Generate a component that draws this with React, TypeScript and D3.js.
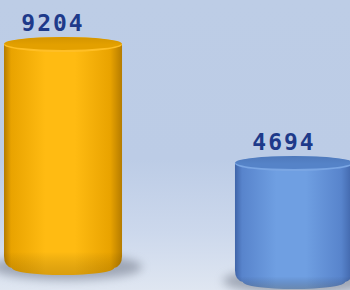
import { useEffect } from "react"
import { scaleBand, scaleLinear } from "d3"

const categories = ["Category 1", "Category 2"]
const values = [9204, 4694]
const labels = ["9204", "4694"]

const W = 350
const H = 290

// colours for each cylinder: [edge dark, mid, bright, cap face, cap rim]
const palettes = [
  { dark: "#b57c00", mid: "#e9a300", bright: "#ffbb12", cap: "#e3a000", capTop: "#d39400", rim: "#ffbf26" },
  { dark: "#3f64a8", mid: "#5884cc", bright: "#6f9fe2", cap: "#5583c8", capTop: "#4f79bb", rim: "#7aa6e4" }
]

function Cylinder({ i, x, w, top, bottom }) {
  const p = palettes[i]
  const rx = w / 2
  const cx = x + rx
  const ry = 6.5
  const rb = 9
  const corner = 8
  const body = `
    M${x},${top + ry}
    V${bottom - rb - corner}
    Q${x},${bottom - rb + 2} ${x + corner},${bottom - rb + 4}
    A${rx - corner},${rb - 2} 0 0 0 ${x + w - corner},${bottom - rb + 4}
    Q${x + w},${bottom - rb + 2} ${x + w},${bottom - rb - corner}
    V${top + ry}
    Z`
  return (
    <g>
      <ellipse cx={cx + 4} cy={bottom - 6} rx={rx + 16} ry={13} fill="#6f7787" opacity={0.55} filter="url(#blur)" />
      <path d={body} fill={`url(#body${i})`} />
      <path d={body} fill="url(#bottomShade)" />
      <ellipse cx={cx} cy={top + ry + 1} rx={rx} ry={ry + 1} fill={p.rim} />
      <ellipse cx={cx} cy={top + ry} rx={rx - 0.5} ry={ry} fill={`url(#cap${i})`} />
    </g>
  )
}

export default function App() {
  useEffect(() => {
    document.body.style.margin = "0"
  }, [])

  const x = scaleBand().domain(categories).range([4, 353]).paddingInner(0.489).paddingOuter(0)
  const base = 280
  const y = scaleLinear().domain([0, 9204]).range([base, 37])
  const tilt = 14

  return (
    <svg width={W} height={H} style={{ position: "fixed", left: 0, top: 0, display: "block" }}>
      <defs>
        <linearGradient id="bg" x1="0" y1="0" x2="0" y2="1">
          <stop offset="0" stopColor="#bdcde6" />
          <stop offset="0.55" stopColor="#bccce6" />
          <stop offset="0.8" stopColor="#ccd8ec" />
          <stop offset="1" stopColor="#dfe6f1" />
        </linearGradient>
        <filter id="blur" x="-50%" y="-50%" width="200%" height="200%">
          <feGaussianBlur stdDeviation="5" />
        </filter>
        <linearGradient id="bottomShade" x1="0" y1="0" x2="0" y2="1">
          <stop offset="0.9" stopColor="#000" stopOpacity="0" />
          <stop offset="1" stopColor="#5a3a00" stopOpacity="0.22" />
        </linearGradient>
        {palettes.map((p, i) => (
          <linearGradient key={`b${i}`} id={`body${i}`} x1="0" y1="0" x2="1" y2="0">
            <stop offset="0" stopColor={p.dark} />
            <stop offset="0.06" stopColor={p.mid} />
            <stop offset="0.35" stopColor={p.bright} />
            <stop offset="0.6" stopColor={p.bright} />
            <stop offset="0.9" stopColor={p.mid} />
            <stop offset="1" stopColor={p.dark} />
          </linearGradient>
        ))}
        {palettes.map((p, i) => (
          <linearGradient key={`c${i}`} id={`cap${i}`} x1="0" y1="0" x2="0" y2="1">
            <stop offset="0" stopColor={p.capTop} />
            <stop offset="0.6" stopColor={p.cap} />
            <stop offset="1" stopColor={p.cap} />
          </linearGradient>
        ))}
      </defs>
      <rect width={W} height={H} fill="url(#bg)" />
      {categories.map((c, i) => {
        const bx = x(c)
        const bw = x.bandwidth()
        const bottom = base - tilt / 2 + tilt * i
        return (
          <Cylinder key={c} i={i} x={bx} w={bw} top={y(values[i])} bottom={bottom} />
        )
      })}
      {categories.map((c, i) => (
        <text
          key={`t-${c}`}
          x={x(c) + x.bandwidth() / 2 - 10}
          y={y(values[i]) - 6}
          textAnchor="middle"
          fontFamily="DejaVu Sans Mono"
          fontWeight="bold"
          fontSize="23px"
          letterSpacing="2"
          fill="#1e3a8a"
        >
          {labels[i]}
        </text>
      ))}
    </svg>
  )
}
